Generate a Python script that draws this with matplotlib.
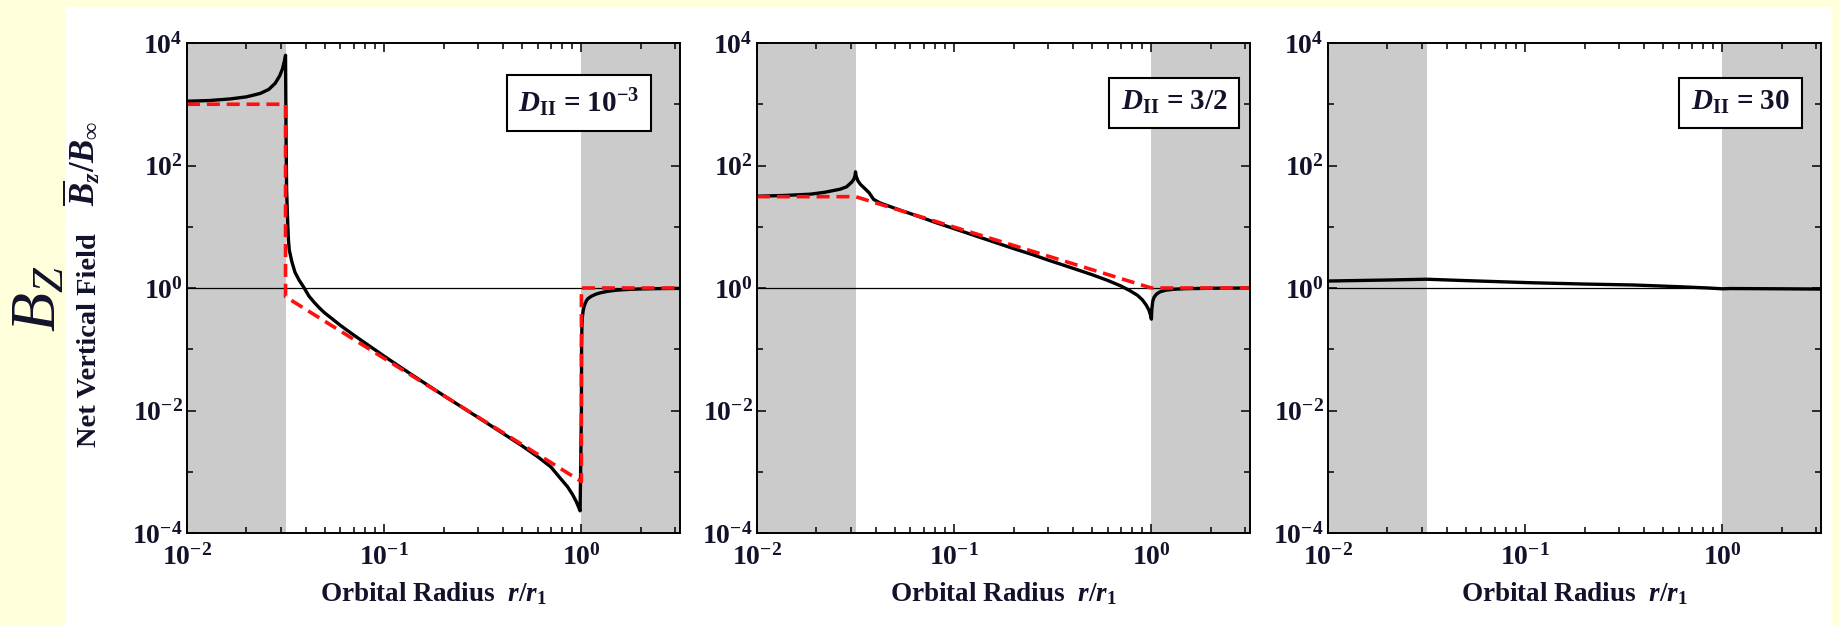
import matplotlib
matplotlib.use("Agg")
import matplotlib.pyplot as plt
from matplotlib.patches import Rectangle
from matplotlib.ticker import FixedLocator, NullFormatter, LogLocator
import numpy as np

plt.rcParams['font.family'] = ['Liberation Serif', 'DejaVu Serif']
plt.rcParams['font.weight'] = 'bold'
plt.rcParams['axes.labelweight'] = 'bold'
plt.rcParams['mathtext.fontset'] = 'custom'
plt.rcParams['mathtext.rm'] = 'Liberation Serif:bold'
plt.rcParams['mathtext.it'] = 'Liberation Serif:italic:bold'
plt.rcParams['mathtext.bf'] = 'Liberation Serif:bold'

# ---- data ----
x_range = (0.01, 10 ** 0.5)
inner_gap = (0.01, 10 ** -1.5)
outer_gap = (1.0, 10 ** 0.5)

labels = [r'$D_{\mathrm{II}}$ = $10^{-3}$', r'$D_{\mathrm{II}}$ = 3/2', r'$D_{\mathrm{II}}$ = 30']

# panel 1 (D = 1e-3): full solution (black) and approximation (red dashed)
r1_full = [0.01, 0.013, 0.0165, 0.02, 0.0235, 0.026, 0.028, 0.0295, 0.0305, 0.031,
           0.0314, 0.0316, 0.0318, 0.032, 0.0324, 0.0327, 0.033, 0.034, 0.0353, 0.037,
           0.039, 0.0415, 0.044, 0.047, 0.05, 0.055, 0.06, 0.067, 0.076, 0.087,
           0.1, 0.12, 0.15, 0.2, 0.3, 0.4, 0.5, 0.6, 0.7, 0.78,
           0.85, 0.9, 0.94, 0.97, 0.985, 1.0, 1.002, 1.006, 1.012, 1.02,
           1.03, 1.045, 1.06, 1.08, 1.12, 1.18, 1.24, 1.35, 1.5, 1.7,
           2.0, 2.5, 3.16]
b1_full = [1120, 1150, 1220, 1320, 1500, 1750, 2200, 2900, 3800, 4700,
           5600, 6300, 300, 40, 12, 6, 4.2, 2.7, 1.8, 1.35,
           1.04, 0.74, 0.59, 0.47, 0.39, 0.306, 0.245, 0.189, 0.142, 0.105,
           0.077, 0.0518, 0.0322, 0.0176, 0.00767, 0.00423, 0.00265, 0.00176, 0.0012, 0.00079,
           0.00057, 0.00043, 0.00033, 0.00026, 0.00023, 0.01, 0.12, 0.24, 0.34, 0.42,
           0.49, 0.56, 0.62, 0.67, 0.73, 0.79, 0.83, 0.88, 0.92, 0.945,
           0.965, 0.978, 0.985]
r1_approx = [0.01, 0.0316, 0.0316, 1.0, 1.0, 3.16]
b1_approx = [1000, 1000, 0.72, 6.9e-4, 1.0, 1.0]

# panel 2 (D = 3/2)
r2_full = [0.01, 0.014, 0.0186, 0.022, 0.0264, 0.0285, 0.0303, 0.031, 0.0314, 0.0316,
           0.0318, 0.0325, 0.0335, 0.0347, 0.037, 0.039, 0.042, 0.047, 0.055, 0.065,
           0.08, 0.1, 0.13, 0.16, 0.2, 0.25, 0.3, 0.4, 0.5, 0.6,
           0.7, 0.78, 0.85, 0.9, 0.94, 0.97, 0.99, 1.0, 1.005, 1.015,
           1.03, 1.06, 1.1, 1.18, 1.3, 1.5, 2.0, 3.16]
b2_full = [31.5, 32.5, 34, 36.5, 41, 45, 54, 60, 68, 79,
           68, 56, 49, 44, 36, 28, 24.5, 21.5, 18, 15,
           11.8, 9.3, 7.0, 5.6, 4.4, 3.5, 2.85, 2.1, 1.65, 1.33,
           1.08, 0.9, 0.76, 0.64, 0.53, 0.44, 0.36, 0.31, 0.45, 0.6,
           0.7, 0.79, 0.86, 0.92, 0.955, 0.975, 0.99, 1.0]
r2_approx = [0.01, 0.0316, 1.0, 3.16]
b2_approx = [31, 31, 1.0, 1.0]

# panel 3 (D = 30)
r3_full = [0.01, 0.02, 0.0316, 0.05, 0.106, 0.2, 0.353, 0.6, 0.85, 1.0, 1.1, 2.0, 3.16]
b3_full = [1.3, 1.35, 1.39, 1.32, 1.22, 1.16, 1.12, 1.05, 1.0, 0.97, 0.98, 0.97, 0.96]

full_curves = [(r1_full, b1_full), (r2_full, b2_full), (r3_full, b3_full)]
approx_curves = [(r1_approx, b1_approx), (r2_approx, b2_approx), None]
label_pos = [(0.795, 0.878), (0.846, 0.878), (0.837, 0.878)]

W, H = 1839, 626
fig = plt.figure(figsize=(W / 100, H / 100), dpi=100)
fig.patch.set_facecolor('#ffffdc')
fig.patches.append(Rectangle((65 / W, 0), (1832 - 65) / W, (H - 7) / H,
                             transform=fig.transFigure, fc='white', ec='none', zorder=-10))

lefts = [187, 757, 1328]
ink = '#12122a'
for i, left in enumerate(lefts):
    ax = fig.add_axes([left / W, 93 / H, 493 / W, 490 / H])
    ax.set_xscale('log')
    ax.set_yscale('log')
    ax.set_xlim(*x_range)
    ax.set_ylim(1e-4, 1e4)
    ax.axvspan(*inner_gap, color='#cbcbcb', lw=0, zorder=0)
    ax.axvspan(*outer_gap, color='#cbcbcb', lw=0, zorder=0)
    ax.axhline(1.0, color='black', lw=0.9, zorder=1)

    rx, by = full_curves[i]
    ax.plot(rx, by, color='black', lw=2.4, zorder=3)
    if approx_curves[i] is not None:
        ax_, ay_ = approx_curves[i]
        ax.plot(ax_, ay_, color='#ff1010', lw=2.6, dashes=(3.6, 1.9), zorder=4)

    ax.yaxis.set_major_locator(FixedLocator([1e-4, 1e-2, 1e0, 1e2, 1e4]))
    ax.yaxis.set_minor_locator(FixedLocator([1e-3, 1e-1, 1e1, 1e3]))
    ax.yaxis.set_minor_formatter(NullFormatter())
    ax.xaxis.set_major_locator(LogLocator(base=10, numticks=10))
    ax.xaxis.set_minor_locator(LogLocator(base=10, subs=np.arange(2, 10), numticks=20))
    ax.xaxis.set_minor_formatter(NullFormatter())
    ax.tick_params(which='both', direction='in', top=True, right=True,
                   width=1.1, color='black', labelsize=20, labelcolor=ink)
    ax.tick_params(which='major', length=6.5)
    ax.tick_params(which='minor', length=4.3)
    ax.tick_params(axis='y', pad=3)
    ax.tick_params(axis='x', pad=8)
    for s in ax.spines.values():
        s.set_linewidth(1.4)
        s.set_zorder(5)

    ax.set_xlabel(r'Orbital Radius  $r/r_1$', fontsize=19.5, color=ink, labelpad=7)
    if i == 0:
        ax.set_ylabel('Net Vertical Field', fontsize=20.5, color=ink)
        ax.yaxis.set_label_coords(-0.172, 0.393)
        ax.text(-0.17, 0.755, r'$\overline{B}_z/B_\infty$', transform=ax.transAxes,
                rotation=90, ha='right', va='center', fontsize=25, color=ink)

    lx, ly = label_pos[i]
    ax.text(lx, ly, labels[i], transform=ax.transAxes, ha='center', va='center',
            fontsize=21, color=ink, zorder=6,
            bbox=dict(boxstyle='square,pad=0.4', fc='white', ec='black', lw=1.5))

# big B_Z tag on the yellow margin
fig.text(40 / W, 1 - 299 / H, r'$\mathdefault{B_Z}$', rotation=90, fontsize=46,
         ha='center', va='center', color=ink, fontweight='normal', fontstyle='italic',
         family='Liberation Serif')

fig.savefig('out.png', dpi=100, facecolor=fig.get_facecolor())
